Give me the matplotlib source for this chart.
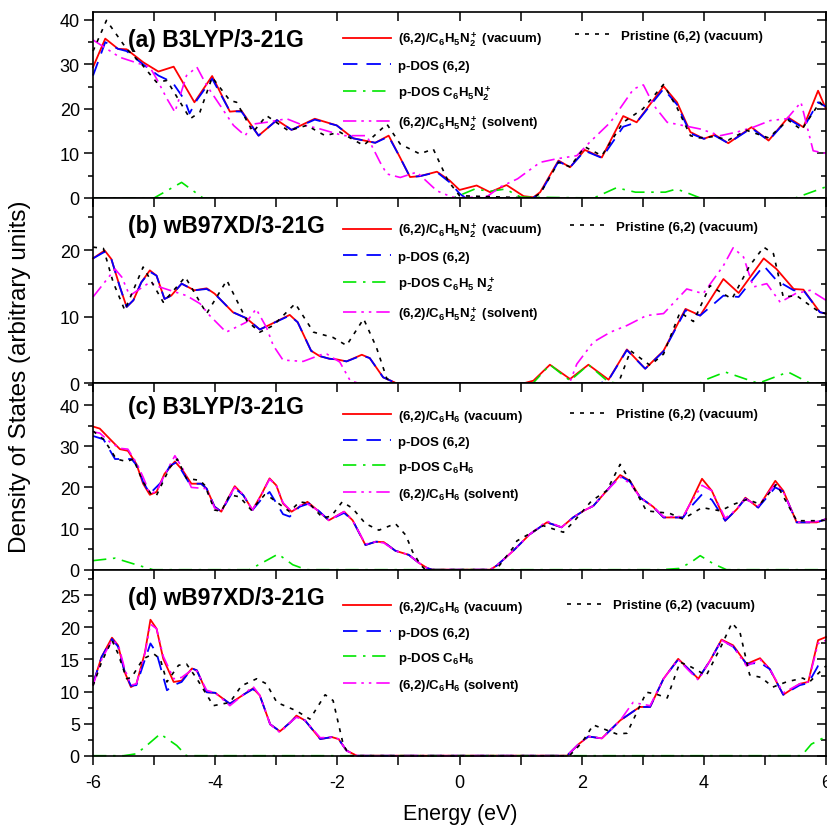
import matplotlib
matplotlib.use("Agg")
import matplotlib.pyplot as plt
from matplotlib.ticker import MultipleLocator

plt.rcParams["font.family"] = ["Liberation Sans", "DejaVu Sans"]
plt.rcParams["axes.unicode_minus"] = False
plt.rcParams["mathtext.fontset"] = "custom"
plt.rcParams["mathtext.rm"] = "Liberation Sans:bold"
plt.rcParams["mathtext.bf"] = "Liberation Sans:bold"
plt.rcParams["mathtext.it"] = "Liberation Sans:bold"
plt.rcParams["mathtext.default"] = "bf"

# ---------------- panel (a) B3LYP, C6H5N2+ ----------------
a_vac_e = [-6.0, -5.80, -5.59, -5.45, -5.18, -4.93, -4.68, -4.34, -4.05, -3.76, -3.57, -3.29, -2.99, -2.75,
           -2.37, -2.01, -1.74, -1.38, -1.16, -0.97, -0.81, -0.65, -0.37, -0.16, 0.0, 0.28, 0.50, 0.77, 1.05,
           1.21, 1.32, 1.62, 1.81, 2.05, 2.33, 2.68, 2.90, 3.34, 3.56, 3.78, 4.00, 4.18, 4.40, 4.78, 5.06,
           5.38, 5.63, 5.87, 6.0]
a_vac_d = [29.4, 35.8, 33.5, 33.4, 30.5, 28.4, 29.5, 21.5, 27.4, 19.4, 19.6, 14.0, 17.5, 15.3,
           17.8, 16.3, 13.4, 12.4, 14.0, 9.0, 4.7, 4.9, 5.9, 3.9, 1.8, 2.8, 1.3, 2.9, 0.4,
           0.15, 1.3, 8.4, 6.9, 10.8, 9.1, 18.4, 17.0, 25.1, 21.5, 14.8, 13.3, 14.2, 12.3, 15.9, 12.9,
           18.1, 15.9, 24.1, 20.0]
a_pdos_e = [-6.0, -5.80, -5.59, -5.45, -5.18, -4.93, -4.70, -4.50, -4.42, -4.30, -4.05, -3.76, -3.57, -3.29,
            -2.99, -2.75, -2.37, -2.01, -1.74, -1.38, -1.16, -0.97, -0.81, -0.65, -0.37, -0.16, 0.0, 0.1,
            1.2, 1.32, 1.62, 1.81, 2.05, 2.33, 2.68, 2.90, 3.34, 3.56, 3.78, 4.00, 4.18, 4.40, 4.78, 5.06,
            5.38, 5.63, 5.87, 6.0]
a_pdos_d = [27.5, 35.0, 33.5, 33.0, 30.0, 27.5, 26.0, 22.0, 19.0, 22.0, 26.8, 19.5, 19.4, 14.0,
            17.5, 15.3, 17.6, 16.3, 13.4, 12.4, 13.8, 9.0, 4.7, 4.9, 5.8, 3.5, 1.0, 0.0,
            0.0, 1.0, 8.2, 6.9, 10.6, 9.0, 16.0, 17.0, 24.5, 21.0, 14.5, 13.3, 14.0, 12.3, 15.7, 12.9,
            17.8, 15.7, 21.5, 20.5]
a_frag_e = [-6.0, -5.0, -4.55, -4.2, -0.1, 0.25, 0.5, 0.75, 1.0, 2.2, 2.57, 2.88, 3.37, 3.55, 3.7, 3.94, 5.5, 6.0]
a_frag_d = [0, 0, 3.5, 0, 0, 2.0, 1.5, 2.0, 0.2, 0, 2.3, 1.3, 1.3, 2.0, 1.3, 0, 0, 2.5]
a_solv_e = [-6.0, -5.56, -5.07, -4.96, -4.79, -4.66, -4.47, -4.30, -4.14, -3.70, -3.51, -3.38, -3.16, -2.83,
            -2.61, -2.28, -1.90, -1.52, -1.30, -1.19, -0.97, -0.70, -0.37, -0.16, -0.05, 0.45, 0.67, 0.95,
            1.32, 1.59, 1.92, 2.13, 2.47, 2.85, 3.01, 3.18, 3.40, 3.94, 4.27, 4.54, 4.81, 5.09, 5.36, 5.59,
            5.79, 6.0]
a_solv_d = [35.5, 31.6, 29.4, 26.8, 22.3, 19.3, 27.5, 29.4, 25.3, 16.3, 14.0, 16.6, 17.0, 17.8,
            16.6, 15.5, 14.0, 14.0, 8.0, 5.4, 4.6, 5.8, 1.6, 0.4, 0.0, 0.3, 2.5, 4.3,
            8.0, 8.8, 9.5, 12.5, 17.0, 24.5, 25.4, 20.8, 17.0, 15.5, 14.0, 14.8, 15.9, 17.4, 17.8, 21.5,
            10.6, 10.0]
a_pris_e = [-6.0, -5.78, -5.45, -5.2, -4.96, -4.79, -4.41, -4.25, -4.05, -3.76, -3.65, -3.38, -3.16, -2.80,
            -2.50, -2.20, -1.96, -1.57, -1.19, -0.97, -0.65, -0.43, -0.19, 0.0, 1.2, 1.32, 1.62, 1.81, 2.05,
            2.33, 2.68, 3.0, 3.34, 3.56, 3.78, 3.92, 4.18, 4.4, 4.7, 5.06, 5.38, 5.6, 5.9, 6.0]
a_pris_d = [33.0, 39.9, 33.5, 30.0, 26.0, 26.4, 17.8, 19.3, 27.1, 21.9, 21.5, 14.8, 18.5, 15.1,
            16.3, 14.0, 14.8, 11.8, 16.6, 12.1, 9.9, 11.0, 3.9, 0.5, 0.0, 1.0, 8.0, 7.0, 11.5,
            9.5, 17.0, 20.0, 25.5, 20.3, 14.0, 13.5, 13.8, 13.0, 15.2, 13.5, 17.5, 15.3, 21.5, 20.0]

# ---------------- panel (b) wB97XD, C6H5N2+ ----------------
b_vac_e = [-6.0, -5.81, -5.70, -5.56, -5.45, -5.34, -5.21, -5.07, -4.96, -4.83, -4.72, -4.55, -4.34, -4.14,
           -4.01, -3.71, -3.49, -3.27, -3.11, -2.78, -2.65, -2.43, -2.29, -2.13, -2.01, -1.85, -1.60, -1.47,
           -1.25, -1.03, 1.05, 1.21, 1.48, 1.81, 2.11, 2.44, 2.74, 3.04, 3.34, 3.70, 3.94, 4.32, 4.57, 4.98,
           5.19, 5.47, 5.63, 5.90, 6.0]
b_vac_d = [18.8, 20.0, 18.7, 14.5, 11.5, 12.5, 15.2, 17.0, 16.2, 12.7, 13.2, 15.0, 14.0, 14.3,
           13.5, 10.7, 9.8, 8.1, 8.8, 10.3, 9.2, 4.9, 4.1, 3.7, 3.6, 3.3, 4.3, 3.8,
           0.9, 0.0, 0.0, 0.4, 2.8, 0.65, 2.8, 0.55, 5.1, 2.2, 4.9, 11.2, 10.2, 15.7, 13.6, 18.8,
           17.2, 14.2, 14.1, 10.7, 10.5]
b_pdos_e = [-6.0, -5.81, -5.70, -5.56, -5.45, -5.34, -5.21, -5.07, -4.96, -4.83, -4.72, -4.55, -4.34, -4.14,
            -4.01, -3.71, -3.49, -3.27, -3.11, -2.78, -2.65, -2.43, -2.29, -2.13, -2.01, -1.85, -1.60, -1.47,
            -1.25, -1.03, 2.3, 2.44, 2.74, 3.04, 3.34, 3.70, 3.94, 4.32, 4.57, 4.98, 5.19, 5.47, 5.63, 5.90, 6.0]
b_pdos_d = [18.8, 19.8, 18.7, 14.5, 11.5, 12.5, 15.2, 16.8, 16.2, 12.7, 13.2, 15.0, 14.0, 14.2,
            13.5, 10.7, 9.8, 8.1, 8.8, 10.2, 9.2, 4.9, 4.1, 3.7, 3.6, 3.3, 4.2, 3.8,
            0.9, 0.0, 0.0, 0.5, 5.0, 2.2, 4.8, 11.0, 10.2, 13.2, 13.0, 17.7, 15.5, 14.0, 14.0, 10.7, 10.5]
b_frag_e = [-6.0, 1.2, 1.48, 1.81, 2.11, 2.44, 2.6, 3.94, 3.99, 4.35, 4.89, 5.38, 5.74, 6.0]
b_frag_d = [0, 0, 2.8, 0.4, 2.8, 0.2, 0, 0, 0.4, 1.7, 0, 1.7, 0, 0]
b_solv_e = [-6.0, -5.64, -5.53, -5.40, -5.07, -4.91, -4.47, -4.25, -4.09, -3.82, -3.49, -3.33, -3.16, -3.05,
            -2.89, -2.56, -2.24, -2.17, -1.96, -1.79, -1.65, 1.8, 1.92, 2.19, 2.47, 2.74, 3.06, 3.34, 3.72,
            3.99, 4.32, 4.48, 4.65, 4.81, 5.03, 5.25, 5.50, 5.74, 6.0]
b_solv_d = [13.0, 17.2, 16.0, 13.2, 15.2, 14.5, 13.2, 12.0, 10.2, 7.7, 9.2, 11.2, 8.4, 5.7,
            3.5, 3.3, 4.4, 4.4, 3.2, 0.4, 0.0, 0.0, 2.9, 6.2, 7.7, 8.7, 10.2, 10.5, 14.2,
            13.5, 17.7, 20.4, 19.0, 14.5, 15.0, 12.2, 13.5, 14.0, 12.5]
b_pris_e = [-6.0, -5.83, -5.67, -5.48, -5.18, -4.85, -4.49, -4.14, -3.81, -3.48, -3.27, -3.05, -2.69, -2.39,
            -2.07, -1.85, -1.57, -1.36, -1.19, -1.05, 2.6, 2.80, 3.12, 3.34, 3.61, 3.83, 4.10, 4.46, 4.75,
            4.98, 5.14, 5.30, 5.52, 5.74, 5.90, 6.0]
b_pris_d = [20.5, 20.3, 15.2, 11.0, 17.5, 12.2, 16.0, 10.5, 15.5, 9.4, 7.7, 8.7, 12.0, 7.7,
            6.9, 5.7, 9.7, 5.4, 0.7, 0.0, 0.0, 4.9, 2.7, 4.4, 10.7, 9.3, 14.7, 12.7, 17.7,
            20.5, 19.5, 13.0, 13.2, 11.7, 10.7, 10.5]

# ---------------- panel (c) B3LYP, C6H6 ----------------
c_vac_e = [-6.0, -5.89, -5.72, -5.56, -5.43, -5.29, -5.18, -5.07, -4.96, -4.83, -4.66, -4.53, -4.39, -4.23,
           -4.14, -4.01, -3.90, -3.79, -3.68, -3.54, -3.39, -3.25, -3.11, -3.00, -2.89, -2.75, -2.62, -2.49,
           -2.33, -2.14, -1.89, -1.75, -1.54, -1.37, -1.24, -1.05, -0.83, -0.66, -0.53, -0.45, 0.5, 0.61,
           0.88, 1.15, 1.43, 1.67, 1.86, 2.03, 2.19, 2.41, 2.63, 2.79, 2.96, 3.17, 3.34, 3.66, 3.77, 3.97,
           4.13, 4.35, 4.54, 4.68, 4.89, 5.17, 5.30, 5.52, 5.85, 6.0]
c_vac_d = [34.8, 34.3, 31.7, 29.3, 28.9, 25.7, 20.9, 18.2, 18.9, 23.3, 26.3, 24.1, 20.9, 20.9,
           19.7, 15.3, 14.1, 17.3, 20.3, 18.1, 14.5, 18.1, 22.2, 20.5, 16.1, 14.1, 15.3, 16.5,
           14.5, 12.0, 14.1, 12.0, 6.0, 6.8, 6.7, 4.6, 3.6, 1.6, 0.4, 0.0, 0.0, 1.0,
           4.6, 8.6, 11.5, 10.3, 12.7, 14.3, 15.5, 19.2, 23.0, 21.6, 17.5, 15.3, 12.7, 12.7, 15.9, 22.1,
           19.2, 11.9, 14.7, 17.5, 15.1, 21.6, 19.2, 11.5, 11.5, 12.3]
c_pdos_e = [-6.0, -5.83, -5.64, -5.37, -5.26, -5.18, -5.07, -4.88, -4.74, -4.63, -4.42, -4.23, -4.14, -4.01,
            -3.90, -3.79, -3.68, -3.54, -3.39, -3.25, -3.11, -2.89, -2.78, -2.62, -2.46, -2.29, -2.14, -1.89,
            -1.75, -1.54, -1.37, -1.24, -1.05, -0.83, -0.66, -0.53, -0.45, 0.5, 0.61, 0.88, 1.15, 1.43,
            1.67, 1.86, 2.03, 2.19, 2.41, 2.63, 2.79, 2.96, 3.17, 3.34, 3.66, 3.77, 3.97, 4.13, 4.35, 4.54,
            4.68, 4.89, 5.17, 5.30, 5.52, 5.85, 6.0]
c_pdos_d = [32.5, 31.7, 26.9, 26.9, 24.9, 21.3, 18.5, 21.3, 25.3, 26.1, 20.9, 20.9, 19.7, 15.3,
            14.1, 17.0, 19.8, 18.1, 14.5, 17.0, 18.9, 13.5, 12.9, 15.3, 16.1, 14.1, 12.0, 13.8,
            12.0, 6.0, 6.8, 6.7, 4.6, 3.6, 1.6, 0.4, 0.0, 0.0, 1.0, 4.6, 8.6, 11.5,
            10.3, 12.7, 14.3, 15.5, 19.2, 22.8, 21.4, 17.5, 15.3, 12.7, 12.7, 15.0, 18.3, 17.0, 11.9, 14.7,
            17.3, 15.1, 20.0, 19.0, 11.5, 11.5, 12.3]
c_frag_e = [-6.0, -5.64, -5.29, -5.02, -3.44, -3.14, -2.97, -2.73, -2.51, 3.3, 3.6, 3.79, 3.94, 4.16, 4.37, 6.0]
c_frag_d = [2.2, 2.8, 1.2, 0, 0, 2.4, 3.8, 1.2, 0, 0, 0.3, 1.8, 3.4, 1.4, 0.0, 0.0]
c_solv_e = c_vac_e
c_solv_d = [33.5, 33.2, 31.0, 29.5, 29.3, 26.0, 22.5, 18.5, 19.0, 23.0, 27.7, 24.5, 20.0, 19.8,
            19.7, 15.0, 14.1, 17.3, 20.0, 18.3, 14.5, 18.0, 22.0, 20.5, 16.3, 14.1, 15.6, 16.0,
            14.5, 12.0, 14.1, 12.0, 6.2, 6.8, 6.5, 4.6, 3.6, 1.6, 0.4, 0.0, 0.0, 1.0,
            4.6, 8.6, 11.8, 10.3, 12.7, 14.3, 15.5, 19.2, 22.5, 21.0, 17.5, 15.3, 12.9, 12.9, 15.9, 20.5,
            19.2, 12.5, 14.7, 17.2, 15.5, 20.8, 19.0, 11.5, 11.7, 12.3]
c_pris_e = [-6.0, -5.83, -5.72, -5.62, -5.45, -5.34, -5.18, -5.04, -4.96, -4.74, -4.62, -4.47, -4.25, -4.17,
            -4.01, -3.90, -3.76, -3.60, -3.41, -3.19, -3.11, -2.89, -2.78, -2.62, -2.46, -2.24, -2.10, -1.92,
            -1.75, -1.54, -1.32, -1.05, -0.88, -0.77, -0.64, -0.56, 0.6, 0.88, 0.94, 1.13, 1.37, 1.70,
            1.86, 2.16, 2.41, 2.63, 2.79, 3.06, 3.44, 3.66, 3.97, 4.27, 4.49, 4.71, 4.92, 5.19, 5.52, 5.85, 6.0]
c_pris_d = [33.7, 31.7, 29.3, 26.9, 26.3, 26.9, 21.3, 18.2, 18.1, 24.9, 26.9, 22.2, 21.7, 20.5,
            14.5, 14.2, 18.2, 17.7, 14.5, 18.2, 17.7, 15.3, 14.1, 16.5, 16.1, 12.6, 13.0, 16.5,
            14.9, 11.2, 9.6, 11.2, 8.4, 4.4, 1.2, 0.0, 0.0, 5.4, 7.0, 8.6, 10.7, 9.1,
            11.5, 16.7, 19.2, 25.6, 21.6, 14.3, 13.7, 12.3, 15.1, 14.3, 15.9, 17.1, 15.9, 20.8, 11.9, 11.9, 12.0]

# ---------------- panel (d) wB97XD, C6H6 ----------------
d_vac_e = [-6.0, -5.86, -5.69, -5.59, -5.48, -5.38, -5.29, -5.15, -5.06, -4.96, -4.85, -4.68, -4.55, -4.38,
           -4.30, -4.14, -4.00, -3.76, -3.54, -3.38, -3.27, -3.10, -2.94, -2.77, -2.67, -2.53, -2.28, -2.09,
           -1.98, -1.85, -1.68, 1.76, 1.95, 2.11, 2.33, 2.63, 2.95, 3.12, 3.34, 3.58, 3.75, 3.91, 4.10,
           4.29, 4.48, 4.70, 4.92, 5.08, 5.30, 5.57, 5.71, 5.87, 6.0]
d_vac_d = [11.2, 15.4, 18.4, 17.2, 13.0, 10.7, 11.2, 16.1, 21.2, 19.8, 15.1, 11.5, 11.7, 13.6,
           13.3, 9.9, 9.8, 8.1, 9.5, 10.5, 9.4, 4.9, 3.8, 5.2, 6.25, 5.5, 2.6, 2.9,
           2.6, 0.8, 0.0, 0.0, 1.8, 3.0, 2.7, 5.5, 7.6, 7.6, 12.0, 15.1, 13.5, 12.0, 14.8,
           18.1, 17.2, 14.3, 15.2, 13.5, 9.5, 11.2, 11.5, 18.0, 18.5]
d_pdos_e = [-6.0, -5.86, -5.69, -5.59, -5.48, -5.38, -5.29, -5.15, -5.06, -4.96, -4.79, -4.68, -4.55, -4.38,
            -4.30, -4.14, -4.00, -3.76, -3.54, -3.38, -3.27, -3.10, -2.94, -2.77, -2.67, -2.53, -2.28, -2.09,
            -1.98, -1.85, -1.68, 1.76, 1.95, 2.11, 2.33, 2.63, 2.95, 3.12, 3.34, 3.58, 3.75, 3.91, 4.10,
            4.29, 4.48, 4.70, 4.92, 5.08, 5.30, 5.57, 5.71, 5.87, 6.0]
d_pdos_d = [11.2, 15.4, 18.2, 17.0, 13.0, 10.9, 11.0, 15.0, 17.5, 16.0, 10.2, 11.0, 11.5, 13.6,
            13.3, 9.9, 9.8, 8.1, 9.5, 10.4, 9.4, 4.9, 3.8, 5.2, 6.1, 5.5, 2.6, 2.9,
            2.6, 0.8, 0.0, 0.0, 1.8, 3.0, 2.7, 5.5, 7.6, 7.6, 12.0, 15.0, 13.5, 12.0, 14.8,
            18.0, 17.0, 14.3, 14.5, 13.5, 9.5, 11.0, 11.3, 14.0, 14.5]
d_frag_e = [-6.0, -5.5, -5.29, -5.12, -4.90, -4.63, -4.47, 5.6, 5.76, 6.0]
d_frag_d = [0, 0, 0.3, 1.6, 3.4, 1.6, 0, 0, 1.8, 3.0]
d_solv_e = [-6.0, -5.86, -5.69, -5.59, -5.48, -5.38, -5.29, -5.15, -5.06, -4.96, -4.85, -4.68, -4.55, -4.38,
            -4.30, -4.14, -4.00, -3.76, -3.54, -3.38, -3.27, -3.10, -2.94, -2.77, -2.67, -2.53, -2.28, -2.09,
            -1.98, -1.85, -1.68, 1.76, 1.95, 2.11, 2.33, 2.63, 2.84, 3.12, 3.34, 3.58, 3.75, 3.91, 4.10,
            4.29, 4.48, 4.70, 4.92, 5.08, 5.30, 5.57, 5.71, 5.87, 6.0]
d_solv_d = [11.0, 15.0, 18.0, 17.4, 13.5, 11.0, 11.2, 16.0, 20.5, 19.8, 15.5, 12.0, 12.2, 13.4,
            13.2, 10.2, 9.8, 7.8, 9.5, 10.8, 9.4, 4.9, 3.6, 5.2, 6.0, 5.5, 2.8, 2.9,
            2.6, 0.8, 0.0, 0.0, 1.8, 3.0, 2.7, 5.5, 8.3, 7.8, 12.0, 15.0, 13.3, 11.8, 14.8,
            18.0, 17.0, 14.0, 15.0, 13.5, 9.8, 11.2, 11.5, 17.5, 18.0]
d_pris_e = [-6.0, -5.86, -5.69, -5.59, -5.45, -5.37, -5.18, -5.01, -4.90, -4.79, -4.60, -4.47, -4.30, -4.03,
            -3.76, -3.57, -3.32, -3.16, -2.99, -2.67, -2.45, -2.20, -2.07, -1.90, -1.79, 1.8, 2.0, 2.19,
            2.57, 2.74, 3.06, 3.22, 3.40, 3.61, 3.80, 4.04, 4.29, 4.46, 4.59, 4.75, 4.94, 5.13, 5.35, 5.62,
            5.73, 6.0]
d_pris_d = [10.9, 14.6, 18.0, 15.9, 12.0, 12.2, 15.1, 15.9, 15.1, 11.5, 14.1, 14.3, 12.0, 7.8,
            8.3, 10.9, 12.0, 11.2, 8.3, 7.0, 5.7, 9.5, 8.6, 1.6, 0.0, 0.0, 2.0, 4.8,
            3.4, 3.5, 9.9, 9.6, 9.0, 14.6, 13.8, 12.5, 17.2, 20.7, 19.3, 12.6, 12.2, 10.7, 11.5, 12.1,
            11.5, 14.0]

labels_n2 = [r"(6,2)/C$_6$H$_5$N$_2^+$ (vacuum)", "p-DOS (6,2)", r"p-DOS C$_6$H$_5$N$_2^+$",
             r"(6,2)/C$_6$H$_5$N$_2^+$ (solvent)"]
labels_n2b = [r"(6,2)/C$_6$H$_5$N$_2^+$ (vacuum)", "p-DOS (6,2)", r"p-DOS C$_6$H$_5$ N$_2^+$",
              r"(6,2)/C$_6$H$_5$N$_2^+$ (solvent)"]
labels_bz = [r"(6,2)/C$_6$H$_6$ (vacuum)", "p-DOS (6,2)", r"p-DOS C$_6$H$_6$", r"(6,2)/C$_6$H$_6$ (solvent)"]
pristine_label = "Pristine (6,2) (vacuum)"

panels = [
    dict(title="(a) B3LYP/3-21G", labels=labels_n2, ylim=41.8, major=10, minor=5,
         data=[(a_vac_e, a_vac_d), (a_pdos_e, a_pdos_d), (a_frag_e, a_frag_d), (a_solv_e, a_solv_d),
               (a_pris_e, a_pris_d)],
         pos=[0.1125, 0.7600, 0.8863, 0.2244], ty=0.851, ly=0.905, px=0.658),
    dict(title="(b) wB97XD/3-21G", labels=labels_n2b, ylim=27.9, major=10, minor=5,
         data=[(b_vac_e, b_vac_d), (b_pdos_e, b_pdos_d), (b_frag_e, b_frag_d), (b_solv_e, b_solv_d),
               (b_pris_e, b_pris_d)],
         pos=[0.1125, 0.5364, 0.8863, 0.2236], ty=0.849, ly=0.878, px=0.651),
    dict(title="(c) B3LYP/3-21G", labels=labels_bz, ylim=45.3, major=10, minor=5,
         data=[(c_vac_e, c_vac_d), (c_pdos_e, c_pdos_d), (c_frag_e, c_frag_d), (c_solv_e, c_solv_d),
               (c_pris_e, c_pris_d)],
         pos=[0.1125, 0.3116, 0.8863, 0.2248], ty=0.873, ly=0.867, px=0.651),
    dict(title="(d) wB97XD/3-21G", labels=labels_bz, ylim=29.0, major=5, minor=2.5,
         data=[(d_vac_e, d_vac_d), (d_pdos_e, d_pdos_d), (d_frag_e, d_frag_d), (d_solv_e, d_solv_d),
               (d_pris_e, d_pris_d)],
         pos=[0.1125, 0.0872, 0.8863, 0.2244], ty=0.848, ly=0.842, px=0.647),
]

styles = [
    dict(color="#ff0000", lw=1.3, ls="-"),
    dict(color="#0000ff", lw=1.3, dashes=(8, 5)),
    dict(color="#00e600", lw=1.2, dashes=(8, 4, 1.5, 4)),
    dict(color="#ff00ff", lw=1.2, dashes=(8, 3, 1.5, 3, 1.5, 3)),
    dict(color="black", lw=1.2, dashes=(2.4, 3.6)),
]
order = [0, 4, 1, 2, 3]

fig = plt.figure(figsize=(8.27, 8.29), dpi=100)

for i, p in enumerate(panels):
    ax = fig.add_axes(p["pos"])
    handles = [None] * 5
    for k in order:
        e, d = p["data"][k]
        (ln,) = ax.plot(e, d, clip_on=False, zorder=2 + k * 0.1, **styles[k])
        handles[k] = ln
    ax.set_xlim(-6, 6)
    ax.set_ylim(0, p["ylim"])
    ax.xaxis.set_major_locator(MultipleLocator(2))
    ax.xaxis.set_minor_locator(MultipleLocator(1))
    ax.yaxis.set_major_locator(MultipleLocator(p["major"]))
    ax.yaxis.set_minor_locator(MultipleLocator(p["minor"]))
    for s in ax.spines.values():
        s.set_linewidth(1.2)
    ax.tick_params(which="both", direction="out", left=True, right=True, top=True, bottom=True, width=1.1)
    ax.tick_params(axis="y", which="major", length=6.5, labelsize=13, pad=3)
    ax.tick_params(axis="y", which="minor", length=3.5)
    ax.tick_params(axis="x", which="both", length=6.5, labelsize=13, pad=7)
    if i < 3:
        ax.tick_params(axis="x", labelbottom=False)
    ax.text(0.048, p["ty"], p["title"], transform=ax.transAxes, fontsize=16.5, fontweight="bold",
            va="center", ha="left")
    leg = ax.legend(handles[:4], p["labels"], loc="upper left", bbox_to_anchor=(0.341, p["ly"]),
                    frameon=False, borderpad=0, borderaxespad=0, handlelength=3.65, handletextpad=0.5,
                    labelspacing=0.85, prop=dict(weight="bold", size=9.5))
    ax.add_artist(leg)
    ax.legend([handles[4]], [pristine_label], loc="upper left", bbox_to_anchor=(p["px"], p["ly"]),
              frameon=False, borderpad=0, borderaxespad=0, handlelength=2.8, handletextpad=0.65,
              prop=dict(weight="bold", size=9.5))
    # right / top ticks point inward
    for line in ax.yaxis.get_ticklines(minor=False)[1::2] + ax.yaxis.get_ticklines(minor=True)[1::2]:
        line.set_marker(matplotlib.lines.TICKLEFT)
    for line in ax.xaxis.get_ticklines(minor=False)[1::2] + ax.xaxis.get_ticklines(minor=True)[1::2]:
        line.set_marker(matplotlib.lines.TICKDOWN)

fig.text(0.024, 0.545, "Density of States (arbitrary units)", rotation=90, va="center", ha="center",
         fontsize=17.5)
fig.text(0.557, 0.017, "Energy (eV)", va="center", ha="center", fontsize=15.5)

fig.savefig("out.png", dpi=100)
